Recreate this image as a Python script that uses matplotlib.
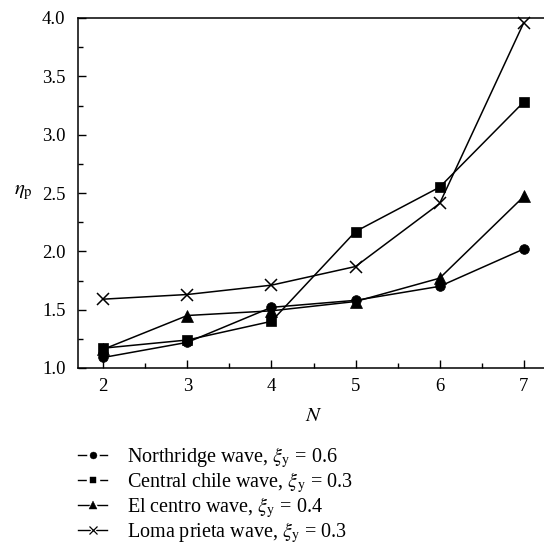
import numpy as np
import matplotlib
matplotlib.use("Agg")
import matplotlib.pyplot as plt
from matplotlib.ticker import MultipleLocator

plt.rcParams['font.family'] = ['Liberation Serif', 'DejaVu Serif']
plt.rcParams['mathtext.fontset'] = 'stix'

n_values = [2, 3, 4, 5, 6, 7]
northridge = [1.09, 1.22, 1.52, 1.58, 1.70, 2.02]
central_chile = [1.17, 1.24, 1.40, 2.17, 2.55, 3.28]
el_centro = [1.16, 1.45, 1.49, 1.57, 1.77, 2.47]
loma_prieta = [1.59, 1.63, 1.71, 1.87, 2.41, 3.96]

labels = [r'Northridge wave, $\xi_{\rm y}$ = 0.6',
          r'Central chile wave, $\xi_{\rm y}$ = 0.3',
          r'El centro wave, $\xi_{\rm y}$ = 0.4',
          r'Loma prieta wave, $\xi_{\rm y}$ = 0.3']

fig = plt.figure(figsize=(5.44, 5.5), dpi=100)
ax = fig.add_axes([78 / 544, 1 - 368 / 550, (549 - 78) / 544, (368 - 18) / 550])

series = [(northridge, 'o', 7), (central_chile, 's', 7),
          (el_centro, '^', 8), (loma_prieta, 'x', 8)]
for (vals, mk, ms), lab in zip(series, labels):
    ax.plot(n_values, vals, color='black', lw=1.1, marker=mk,
            markersize=ms, markeredgewidth=1.1 if mk == 'x' else 0.5,
            label=lab, clip_on=False)

ax.set_xlim(1.7, 7.3)
ax.set_ylim(1.0, 4.0)
ax.xaxis.set_major_locator(MultipleLocator(1))
ax.xaxis.set_minor_locator(MultipleLocator(0.5))
ax.yaxis.set_major_locator(MultipleLocator(0.5))
ax.yaxis.set_minor_locator(MultipleLocator(0.25))
ax.yaxis.set_major_formatter(matplotlib.ticker.FormatStrFormatter('%.1f'))
ax.tick_params(which='both', direction='in', labelsize=13.5, width=1, top=False, right=False)
ax.tick_params(which='major', length=6)
ax.tick_params(which='minor', length=3.5)
ax.tick_params(axis='x', pad=7)
ax.tick_params(axis='y', pad=9)
ax.spines['right'].set_visible(False)
for s in ['left', 'bottom', 'top']:
    ax.spines[s].set_linewidth(1.1)

ax.set_xlabel(r'$N$', fontsize=15)
ax.set_ylabel(r'$\eta_{\rm p}$', fontsize=15, rotation=0, va='center', ha='center')
ax.xaxis.set_label_coords((314 - 78) / 471, -0.111)
ax.yaxis.set_label_coords((23 - 78) / 471, 0.5)

leg_handles = []
for mk, ms in [('o', 5), ('s', 5), ('^', 6), ('x', 5.5)]:
    line = plt.Line2D([], [], color='black', lw=1)
    gap = plt.Line2D([], [], ls='none', marker=mk, markersize=ms + 3,
                     color='white', markeredgewidth=2.5 if mk == 'x' else 1)
    mark = plt.Line2D([], [], ls='none', marker=mk, markersize=ms, color='black',
                      markeredgewidth=0.9 if mk == 'x' else 0.3)
    leg_handles.append((line, gap, mark))
fig.legend(leg_handles, labels, loc='upper left', bbox_to_anchor=(70 / 544, 1 - 437 / 550),
           frameon=False, fontsize=14.5, handlelength=1.45, handletextpad=1.0,
           labelspacing=0.0, borderaxespad=0)

fig.savefig('out.png', dpi=100)
